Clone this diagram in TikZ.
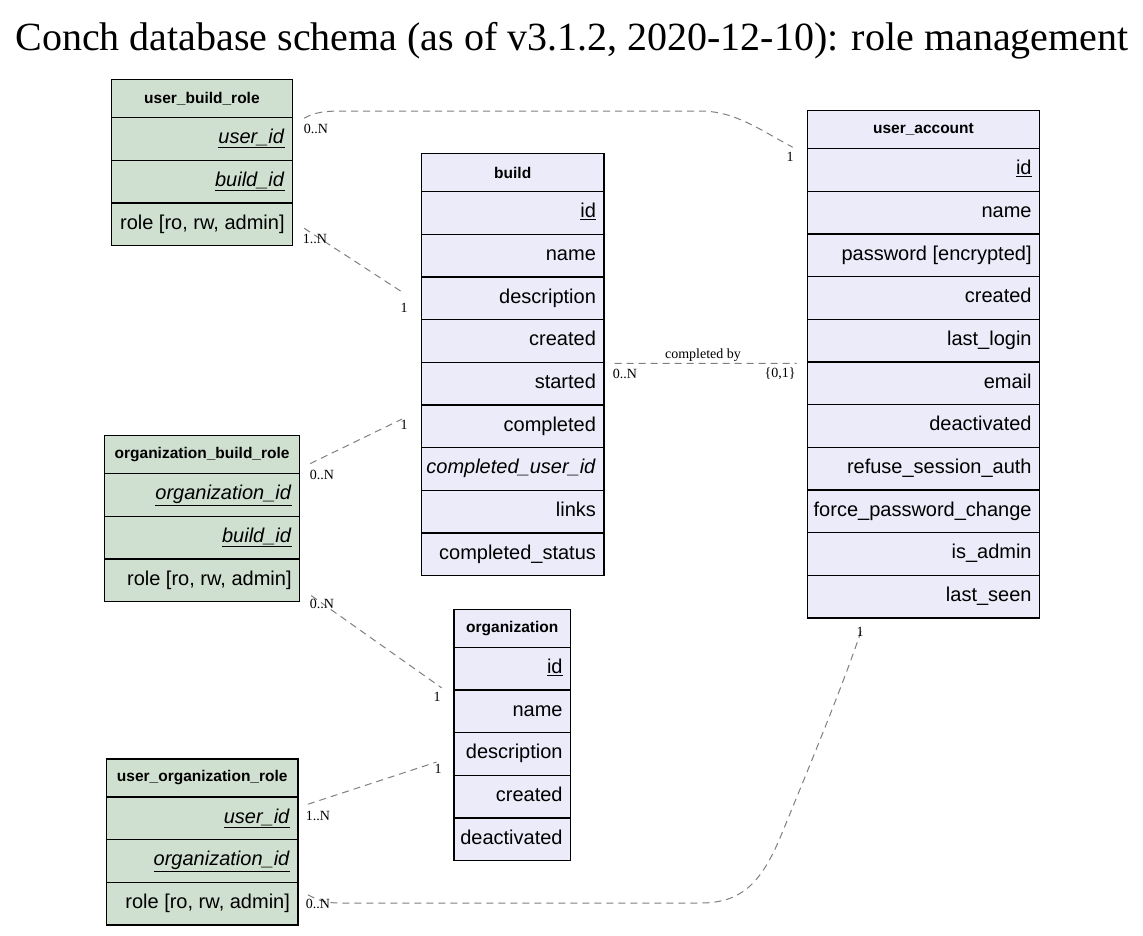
\documentclass[tikz,border=0pt]{standalone}
\usepackage{fontspec}
\setmainfont{Liberation Serif}
\setsansfont{Liberation Sans}
\definecolor{rolegreen}{HTML}{D0E0D0}
\definecolor{tablav}{HTML}{EBEBFA}
\definecolor{edgegray}{HTML}{808080}
\tikzset{
  hdr/.style={draw=black, line width=1.2pt, anchor=north west, minimum height=38pt,
    inner xsep=8pt, inner ysep=0pt,
    font=\sffamily\fontsize{15.5}{18}\selectfont\bfseries},
  rowc/.style={draw=black, line width=1.2pt, anchor=north west, minimum height=42.667pt,
    inner xsep=8pt, inner ysep=0pt,
    font=\sffamily\fontsize{20}{24}\selectfont},
  rel/.style={draw=edgegray, line width=1pt, dash pattern=on 7pt off 5pt},
  card/.style={font=\fontsize{14}{16}\selectfont, inner sep=0pt},
}
% #1 name, #2 x, #3 y, #4 text width, #5 fill, #6 header, #7 rows
\newcommand{\erdtab}[7]{%
  \node[hdr, fill=#5] (#1-0) at (#2,#3) {\makebox[#4pt][c]{#6}};
  \foreach \r [count=\i] in {#7} {
    \node[rowc, fill=#5] (#1-\i) at (#2,{#3+38+(\i-1)*42.667}) {\makebox[#4pt][r]{\strut\r}};
  }
}
\newcommand{\fk}[1]{\underline{\textit{#1}}}
\begin{document}
\begin{tikzpicture}[x=1pt,y=-1pt]
\useasboundingbox (0,0) rectangle (1143,935);
\fill[white] (0,0) rectangle (1143,935);

\node (title) at (572,41) {\fontsize{40}{48}\selectfont Conch database schema (as of v3.1.2, 2020-12-10): role management};

\erdtab{ubr}{110.7}{79}{165.3}{rolegreen}{user\_build\_role}
  {{\fk{user\_id}}, {\fk{build\_id}}, {role [ro, rw, admin]}}
\erdtab{build}{421}{153}{166.3}{tablav}{build}
  {{\underline{id}}, name, description, created, started, completed, {\textit{completed\_user\_id}}, links, {completed\_status}}
\erdtab{ua}{806.7}{110}{216.3}{tablav}{user\_account}
  {{\underline{id}}, name, {password [encrypted]}, created, {last\_login}, email, deactivated, {refuse\_session\_auth}, {force\_password\_change}, {is\_admin}, {last\_seen}}
\erdtab{obr}{104}{435}{179}{rolegreen}{organization\_build\_role}
  {{\fk{organization\_id}}, {\fk{build\_id}}, {role [ro, rw, admin]}}
\erdtab{org}{453.3}{608.7}{100.7}{tablav}{organization}
  {{\underline{id}}, name, description, created, deactivated}
\erdtab{uor}{106}{758.3}{175.3}{rolegreen}{user\_organization\_role}
  {{\fk{user\_id}}, {\fk{organization\_id}}, {role [ro, rw, admin]}}

% user_build_role -> user_account
\draw[rel] ([xshift=11pt]ubr-0.south east) .. controls (315,112) and (325,111) .. (345,111)
  -- (700,111) .. controls (735,111) and (760,130) .. ([xshift=-14pt,yshift=2pt]ua-0.south west);
\node[card] (c1a) at (316,129) {0..N};
\node[card] (c1b) at (790,157) {1};

% user_build_role -> build
\draw[rel] ([xshift=11pt,yshift=-4pt]ubr-3.east) -- ([xshift=-17pt,yshift=5pt]build-3.west);
\node[card] (c2a) at (315,239) {1..N};
\node[card] (c2b) at (404,308) {1};

% build -> user_account (completed by)
\draw[rel] ([xshift=10pt,yshift=-1.6pt]build-5.north east) -- ([xshift=-10pt,yshift=-2pt]ua-6.north west);
\node[card] (c3l) at (703,355) {completed by};
\node[card] (c3a) at (625,373.5) {0..N};
\node[card] (c3b) at (780,373.5) {\{0,1\}};

% organization_build_role -> build
\draw[rel] ([xshift=10pt,yshift=-9pt]obr-0.east) -- ([xshift=-19pt,yshift=-14.7pt]build-6.north west);
\node[card] (c4a) at (322,475) {0..N};
\node[card] (c4b) at (404,425) {1};

% organization_build_role -> organization
\draw[rel] ([xshift=11pt,yshift=-15.3pt]obr-3.east) -- ([xshift=-11.6pt,yshift=2.7pt]org-1.south west);
\node[card] (c5a) at (322,604) {0..N};
\node[card] (c5b) at (437,697) {1};

% user_organization_role -> organization
\draw[rel] ([xshift=9.4pt,yshift=14pt]uor-1.east) -- ([xshift=-16.6pt,yshift=-8pt]org-3.west);
\node[card] (c6a) at (318,816) {1..N};
\node[card] (c6b) at (438,769) {1};

% user_organization_role -> user_account
\draw[rel] ([xshift=9.4pt,yshift=8.7pt]uor-3.east) .. controls (318,900) and (325,903) .. (340,903)
  -- (700,903) .. controls (740,903) and (760,885) .. (780,838)
  .. controls (810,765) and (845,680) .. ([xshift=-61.8pt,yshift=-10.7pt]ua-11.south);
\node[card] (c7a) at (318,904) {0..N};
\node[card] (c7b) at (860,632) {1};
\end{tikzpicture}
\end{document}
